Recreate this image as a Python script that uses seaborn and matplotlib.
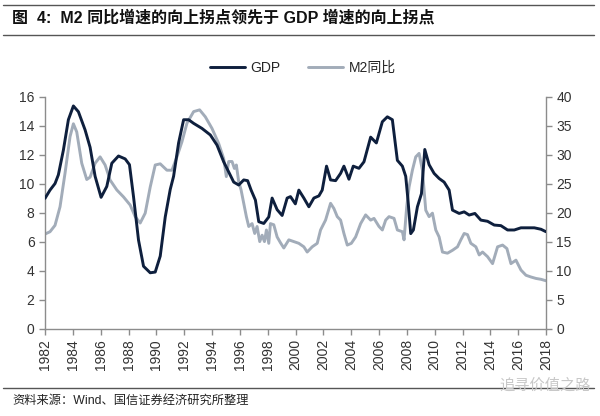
import numpy as np
import pandas as pd
import seaborn as sns
import matplotlib.pyplot as plt
from matplotlib.lines import Line2D

# GDP growth (left axis, %)
gdp_year = [1982.00, 1982.36, 1982.72, 1982.96, 1983.32, 1983.68, 1984.04, 1984.40, 1984.88, 1985.24,
            1985.60, 1986.03, 1986.44, 1986.80, 1987.28, 1987.76, 1988.07, 1988.36, 1988.72, 1989.08,
            1989.56, 1989.92, 1990.28, 1990.64, 1991.00, 1991.24, 1991.60, 1991.96, 1992.32, 1992.68,
            1993.28, 1993.88, 1994.36, 1994.84, 1995.20, 1995.56, 1995.92, 1996.28, 1996.56, 1996.81,
            1997.12, 1997.36, 1997.72, 1998.08, 1998.32, 1998.68, 1999.04, 1999.40, 1999.64, 1999.99,
            2000.24, 2000.60, 2000.96, 2001.32, 2001.68, 2001.92, 2002.23, 2002.52, 2002.88, 2003.24,
            2003.48, 2003.84, 2004.15, 2004.56, 2004.92, 2005.40, 2005.81, 2006.24, 2006.60, 2006.96,
            2007.32, 2007.68, 2007.92, 2008.08, 2008.28, 2008.47, 2008.76, 2009.05, 2009.29, 2009.60,
            2009.96, 2010.32, 2010.68, 2011.04, 2011.28, 2011.76, 2012.12, 2012.48, 2012.89, 2013.32,
            2013.80, 2014.28, 2014.76, 2015.24, 2015.72, 2016.20, 2016.68, 2017.16, 2017.64, 2018.00]
gdp_val = [8.98, 9.55, 10.0, 10.6, 12.3, 14.4, 15.35, 14.95, 13.7, 12.5,
           10.5, 9.05, 9.8, 11.4, 11.9, 11.7, 11.3, 9.1, 6.1, 4.3,
           3.85, 3.9, 5.0, 7.7, 9.6, 10.5, 12.8, 14.4, 14.4, 14.15,
           13.8, 13.35, 12.65, 11.5, 10.8, 10.1, 9.9, 10.25, 10.2, 9.55,
           8.86, 7.37, 7.25, 7.7, 9.0, 8.2, 7.8, 9.0, 9.1, 8.6,
           9.55, 9.0, 8.4, 9.0, 9.15, 9.55, 11.2, 10.25, 10.2, 10.7,
           11.2, 10.3, 11.2, 11.05, 11.5, 13.2, 12.8, 14.26, 14.6, 14.4,
           11.6, 11.2, 10.5, 8.9, 6.55, 6.8, 8.4, 9.3, 12.35, 11.3,
           10.7, 10.35, 10.1, 9.55, 8.17, 7.94, 8.05, 7.83, 7.94, 7.48,
           7.4, 7.14, 7.1, 6.8, 6.8, 6.95, 6.95, 6.95, 6.85, 6.68]

# M2 yoy growth (right axis, %)
m2_year = [1982.00, 1982.36, 1982.72, 1983.08, 1983.44, 1983.80, 1984.04, 1984.28, 1984.64, 1985.00,
           1985.24, 1985.60, 1985.96, 1986.32, 1986.68, 1987.16, 1987.64, 1988.12, 1988.48, 1988.84,
           1989.20, 1989.56, 1989.92, 1990.28, 1990.76, 1991.12, 1991.48, 1991.84, 1992.20, 1992.68,
           1993.11, 1993.52, 1994.00, 1994.48, 1994.84, 1995.03, 1995.20, 1995.44, 1995.61, 1995.75,
           1995.92, 1996.09, 1996.28, 1996.47, 1996.64, 1996.88, 1997.07, 1997.24, 1997.43, 1997.60,
           1997.77, 1997.91, 1998.08, 1998.20, 1998.44, 1998.68, 1998.92, 1999.16, 1999.52, 1999.88,
           2000.24, 2000.60, 2000.84, 2001.20, 2001.56, 2001.80, 2002.16, 2002.52, 2002.76, 2003.00,
           2003.24, 2003.48, 2003.72, 2004.01, 2004.32, 2004.68, 2005.04, 2005.40, 2005.64, 2006.00,
           2006.24, 2006.48, 2006.72, 2007.08, 2007.32, 2007.68, 2007.80, 2007.99, 2008.16, 2008.40,
           2008.64, 2008.88, 2009.12, 2009.36, 2009.60, 2009.84, 2010.08, 2010.32, 2010.56, 2010.92,
           2011.28, 2011.64, 2011.88, 2012.12, 2012.36, 2012.60, 2012.96, 2013.20, 2013.44, 2013.80,
           2014.16, 2014.52, 2014.88, 2015.19, 2015.48, 2015.84, 2016.20, 2016.56, 2016.92, 2017.28,
           2017.64, 2018.00]
m2_val = [16.3, 16.7, 17.8, 21.0, 26.8, 33.1, 35.3, 33.9, 28.5, 25.7,
          26.1, 28.5, 29.6, 28.2, 25.6, 23.9, 22.7, 21.3, 19.3, 18.2,
          19.9, 24.4, 28.2, 28.4, 27.3, 27.3, 29.6, 32.2, 35.4, 37.4,
          37.7, 36.5, 34.5, 31.9, 29.3, 26.2, 28.8, 28.8, 27.6, 28.2,
          25.3, 23.9, 21.6, 19.3, 17.6, 18.1, 16.4, 17.6, 15.0, 16.1,
          15.0, 17.0, 14.7, 18.1, 17.9, 15.8, 14.8, 13.9, 15.3, 15.0,
          14.7, 14.1, 13.2, 14.1, 14.7, 17.0, 18.7, 21.6, 20.7, 19.3,
          18.7, 16.4, 14.4, 14.7, 15.8, 18.1, 19.6, 18.7, 19.0, 17.6,
          17.0, 18.7, 19.3, 19.0, 17.0, 16.7, 15.3, 21.0, 24.4, 27.3,
          29.6, 30.2, 27.3, 20.4, 19.3, 19.9, 17.0, 15.8, 13.2, 13.0,
          13.5, 14.1, 15.3, 16.4, 16.2, 14.7, 14.1, 12.7, 13.2, 12.4,
          11.2, 14.1, 14.4, 13.8, 11.2, 11.8, 10.1, 9.2, 8.9, 8.65,
          8.5, 8.25]

year_ticks = list(range(1982, 2019, 2))

sns.set_style("ticks")
plt.rcParams['font.family'] = ['Liberation Sans', 'Noto Sans CJK SC', 'DejaVu Sans']

gdp_color = "#0e1f3d"
m2_color = "#a2acb9"
spine_color = "#8c8c8c"
text_color = "#333333"

fig = plt.figure(figsize=(6, 4.16), dpi=100)
ax = fig.add_axes([0.075, 0.21, 0.835, 0.558])
ax2 = ax.twinx()

sns.lineplot(x=gdp_year, y=gdp_val, ax=ax, color=gdp_color, lw=2.1, zorder=3,
             solid_joinstyle='round', solid_capstyle='round')
sns.lineplot(x=m2_year, y=m2_val, ax=ax2, color=m2_color, lw=2.1, zorder=2,
             solid_joinstyle='round', solid_capstyle='round')
ax.set_zorder(ax2.get_zorder() + 1)
ax.patch.set_visible(False)

ax.set_xlim(1982, 2018)
ax.set_ylim(0, 16)
ax2.set_ylim(0, 40)
ax.set_yticks(range(0, 17, 2))
ax2.set_yticks(range(0, 41, 5))
ax.set_xticks(year_ticks)
ax.set_xticklabels([str(y) for y in year_ticks], rotation=90)

for a in (ax, ax2):
    a.set_xlabel("")
    a.set_ylabel("")
    a.spines['top'].set_visible(False)
    for s in ('left', 'right', 'bottom'):
        a.spines[s].set_color(spine_color)
        a.spines[s].set_linewidth(1.0)
    a.tick_params(colors=spine_color, labelcolor=text_color, labelsize=10, length=4, width=1)
ax.spines['right'].set_visible(False)
ax2.spines['left'].set_visible(False)
ax2.spines['bottom'].set_visible(False)

handles = [Line2D([], [], color=gdp_color, lw=2.1), Line2D([], [], color=m2_color, lw=2.1)]
fig.legend(handles, ["GDP", "M2同比"], loc='center', bbox_to_anchor=(0.505, 0.836), ncol=2,
           frameon=False, fontsize=10, handlelength=2.5, columnspacing=2.0, handletextpad=0.4)

# title and rules
fig.text(0.02, 0.957, "图  4:  M2 同比增速的向上拐点领先于 GDP 增速的向上拐点",
         fontsize=11.5, fontweight='bold', color="#111111", va='center', ha='left')
for yy in (0.988, 0.916):
    fig.add_artist(Line2D([0.005, 0.99], [yy, yy], transform=fig.transFigure, color="#555555", lw=1.0))
fig.add_artist(Line2D([0.005, 0.99], [0.067, 0.067], transform=fig.transFigure, color="#555555", lw=1.0))
fig.text(0.02, 0.036, "资料来源：Wind、国信证券经济研究所整理", fontsize=8.8, color="#222222",
         va='center', ha='left')
fig.text(0.985, 0.072, "追寻价值之路", fontsize=11, color="#c8c8c8", va='center', ha='right')

fig.savefig("out.png", dpi=100)
